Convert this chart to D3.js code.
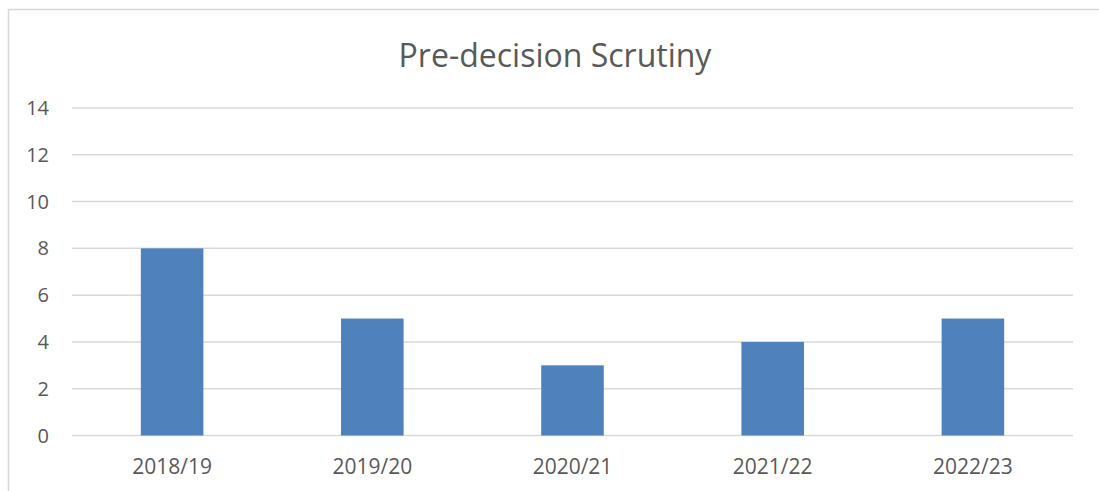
<!DOCTYPE html>
<html>
<head>
<meta charset="utf-8">
<script src="https://cdn.jsdelivr.net/npm/d3@7"></script>
<style>
  html, body { margin: 0; padding: 0; background: #fff; overflow: hidden; }
  text { font-family: "Open Sans", sans-serif; fill: #595959; }
</style>
</head>
<body>
<div id="chart"></div>
<script>
// Chart data
const years = ["2018/19", "2019/20", "2020/21", "2021/22", "2022/23"];
const counts = [8, 5, 3, 4, 5];
const yTicks = [0, 2, 4, 6, 8, 10, 12, 14];

const width = 1099, height = 491;
const plot = { left: 72, right: 1073, top: 108, bottom: 435.5 };

const svg = d3.select('#chart')
    .append('svg')
    .attr('width', width)
    .attr('height', height);

// Chart area border (runs off the right and bottom of the window)
svg.append('rect')
    .attr('x', 8.5)
    .attr('y', 9.5)
    .attr('width', 1100)
    .attr('height', 500)
    .attr('fill', 'none')
    .attr('stroke', '#d9d9d9')
    .attr('stroke-width', 1.5);

const x = d3.scaleBand()
    .domain(years)
    .range([plot.left, plot.right])
    .paddingInner(0.6875)
    .paddingOuter(0.6875 / 2);

const y = d3.scaleLinear()
    .domain([0, 14])
    .range([plot.bottom, plot.top]);

// Gridlines
svg.append('g')
    .selectAll('line')
    .data(yTicks)
    .enter()
    .append('line')
    .attr('x1', plot.left)
    .attr('x2', plot.right)
    .attr('y1', d => y(d))
    .attr('y2', d => y(d))
    .attr('stroke', '#d9d9d9')
    .attr('stroke-width', 1.5);

// Y tick labels
svg.append('g')
    .selectAll('text')
    .data(yTicks)
    .enter()
    .append('text')
    .attr('x', 49)
    .attr('y', d => y(d))
    .attr('dy', '0.35em')
    .attr('text-anchor', 'end')
    .attr('font-size', '20px')
    .text(d => d);

// Bars
svg.append('g')
    .selectAll('rect')
    .data(counts)
    .enter()
    .append('rect')
    .attr('x', (d, i) => x(years[i]))
    .attr('y', d => y(d))
    .attr('width', x.bandwidth())
    .attr('height', d => y(0) - y(d))
    .attr('fill', '#4f81bd');

// X labels
svg.append('g')
    .selectAll('text')
    .data(years)
    .enter()
    .append('text')
    .attr('x', d => x(d) + x.bandwidth() / 2)
    .attr('y', 474)
    .attr('text-anchor', 'middle')
    .attr('font-size', '21px')
    .text(d => d);

// Title
svg.append('text')
    .attr('x', 555)
    .attr('y', 67)
    .attr('text-anchor', 'middle')
    .attr('font-size', '32px')
    .text('Pre-decision Scrutiny');
</script>
</body>
</html>
